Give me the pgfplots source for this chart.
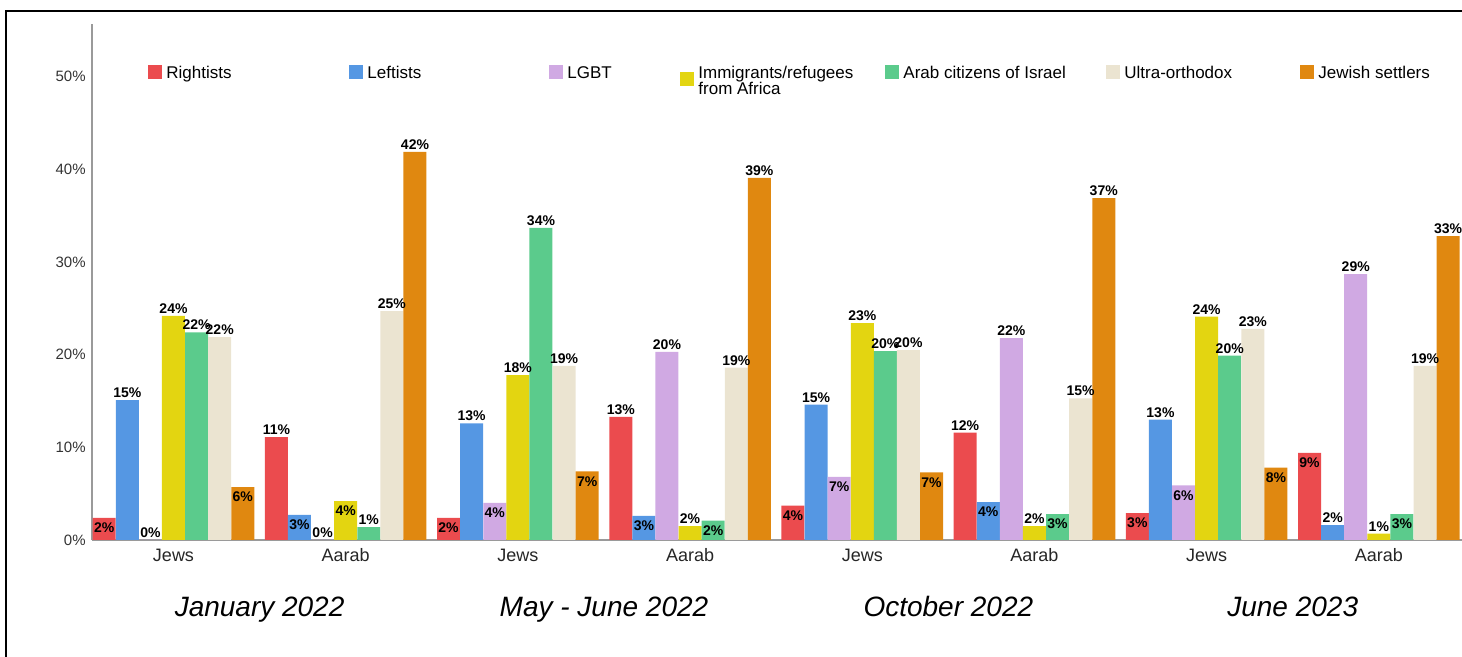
\documentclass[border=0pt]{standalone}
\usepackage{fontspec}
\setmainfont{Liberation Sans}
\usepackage{pgfplots}
\usepackage{pgfplotstable}
\pgfplotsset{compat=1.18}

\definecolor{cR}{HTML}{EB4B4E}
\definecolor{cL}{HTML}{5597E3}
\definecolor{cG}{HTML}{D0A9E3}
\definecolor{cY}{HTML}{E3D511}
\definecolor{cA}{HTML}{5BCB8C}
\definecolor{cU}{HTML}{EBE4D1}
\definecolor{cJ}{HTML}{E08810}
\definecolor{axgray}{HTML}{9A9A9A}

% legend squares (the two-line entry has its square set lower)
\pgfplotsset{
  sq/.style={legend image code/.code={\fill[##1] (0pt,-0.45pt) rectangle (7pt,6.55pt);}},
  sqlow/.style={legend image code/.code={\fill[##1] (0pt,-4pt) rectangle (7pt,3pt);}},
}

% x = category (Jews/Aarab per survey), y = share, lab = printed label, s = label shift (pt)
\pgfplotstableread{
x y lab s
0 2.4 2 -8.6
1 11.1 11 0
2 2.4 2 -8.6
3 13.3 13 0
4 3.7 4 -8.6
5 11.6 12 0
6 2.9 3 -8.6
7 9.4 9 -8.6
}\rightists
\pgfplotstableread{
x y lab s
0 15.1 15 0
1 2.7 3 -8.6
2 12.6 13 0
3 2.6 3 -8.6
4 14.6 15 0
5 4.1 4 -8.6
6 13.0 13 0
7 1.6 2 0
}\leftists
\pgfplotstableread{
x y lab s
0 0 0 0
1 0 0 0
2 4.0 4 -8.6
3 20.3 20 0
4 6.8 7 -8.6
5 21.8 22 0
6 5.9 6 -8.6
7 28.7 29 0
}\lgbt
\pgfplotstableread{
x y lab s
0 24.2 24 0
1 4.2 4 -8.6
2 17.8 18 0
3 1.5 2 0
4 23.4 23 0
5 1.5 2 0
6 24.1 24 0
7 0.7 1 0
}\immig
\pgfplotstableread{
x y lab s
0 22.4 22 0
1 1.4 1 0
2 33.7 34 0
3 2.1 2 -8.6
4 20.4 20 0
5 2.8 3 -8.6
6 19.9 20 0
7 2.8 3 -8.6
}\arabs
\pgfplotstableread{
x y lab s
0 21.9 22 0
1 24.7 25 0
2 18.8 19 0
3 18.6 19 0
4 20.5 20 0
5 15.3 15 0
6 22.8 23 0
7 18.8 19 0
}\ultra
\pgfplotstableread{
x y lab s
0 5.7 6 -8.6
1 41.9 42 0
2 7.4 7 -8.6
3 39.1 39 0
4 7.3 7 -8.6
5 36.9 37 0
6 7.8 8 -8.6
7 32.8 33 0
}\settlers

\begin{document}
\begin{tikzpicture}
\begin{axis}[
    at={(0pt,0pt)}, anchor=south west,
    scale only axis,
    width=685pt, height=258pt,
    xmin=-0.4733, xmax=7.483,
    ymin=0, ymax=55.7,
    enlargelimits=false,
    clip=false,
    axis x line=bottom, axis y line=left,
    axis line style={axgray, line width=0.6pt, -},
    major tick length=0pt,
    ytick={0,10,20,30,40,50},
    yticklabels={0\%,10\%,20\%,30\%,40\%,50\%},
    yticklabel style={font=\fontsize{7.5}{9}\selectfont, text=black!80, inner sep=0pt, xshift=-3pt},
    xtick={0,...,7},
    xticklabels={Jews,Aarab,Jews,Aarab,Jews,Aarab,Jews,Aarab},
    xticklabel style={font=\fontsize{9}{10}\selectfont, text=black!85, anchor=base, yshift=-11pt},
    ybar, bar width=11.5pt,
    nodes near coords={\pgfplotspointmeta\%},
    point meta=explicit symbolic,
    visualization depends on={\thisrow{s}\as\lshift},
    nodes near coords style={font=\bfseries\fontsize{7}{8}\selectfont, text=black, inner sep=1pt, anchor=south, yshift=\lshift pt},
    legend style={at={(0.0409,0.927)}, anchor=north west, draw=none, fill=none,
        inner sep=0pt, font=\fontsize{8.5}{8}\selectfont,
        /tikz/every even column/.append style={column sep=0pt},
        nodes={inner sep=2pt, anchor=base west}},
    legend columns=7,
]
\addplot[fill=cR, draw=none, sq, bar shift=-34.65pt] table[x=x, y=y, meta=lab] {\rightists};
\addlegendentry{\makebox[89.5pt][l]{Rightists}}
\addplot[fill=cL, draw=none, sq, bar shift=-23.1pt] table[x=x, y=y, meta=lab] {\leftists};
\addlegendentry{\makebox[89pt][l]{Leftists}}
\addplot[fill=cG, draw=none, sq, bar shift=-11.55pt] table[x=x, y=y, meta=lab] {\lgbt};
\addlegendentry{\makebox[54.5pt][l]{LGBT}}
\addplot[fill=cY, draw=none, sqlow, bar shift=0pt] table[x=x, y=y, meta=lab] {\immig};
\addlegendentry{\parbox[t]{91.5pt}{\baselineskip=8pt Immigrants/refugees\\from Africa}}
\addplot[fill=cA, draw=none, sq, bar shift=11.55pt] table[x=x, y=y, meta=lab] {\arabs};
\addlegendentry{\makebox[99.5pt][l]{Arab citizens of Israel}}
\addplot[fill=cU, draw=none, sq, bar shift=23.1pt] table[x=x, y=y, meta=lab] {\ultra};
\addlegendentry{\makebox[86pt][l]{Ultra-orthodox}}
\addplot[fill=cJ, draw=none, sq, bar shift=34.65pt] table[x=x, y=y, meta=lab] {\settlers};
\addlegendentry{Jewish settlers}

\node[anchor=base, font=\itshape\fontsize{14}{16}\selectfont] at (axis cs:0.5,0) [yshift=-38.5pt] {January 2022};
\node[anchor=base, font=\itshape\fontsize{14}{16}\selectfont] at (axis cs:2.5,0) [yshift=-38.5pt] {May - June 2022};
\node[anchor=base, font=\itshape\fontsize{14}{16}\selectfont] at (axis cs:4.5,0) [yshift=-38.5pt] {October 2022};
\node[anchor=base, font=\itshape\fontsize{14}{16}\selectfont] at (axis cs:6.5,0) [yshift=-38.5pt] {June 2023};
\end{axis}
\draw[line width=1.2pt] (-43pt,-70pt) -- (-43pt,264.5pt) -- (700pt,264.5pt);
\pgfresetboundingbox
\path[use as bounding box] (-46pt,-58.5pt) rectangle (685pt,270pt);
\end{tikzpicture}
\end{document}
